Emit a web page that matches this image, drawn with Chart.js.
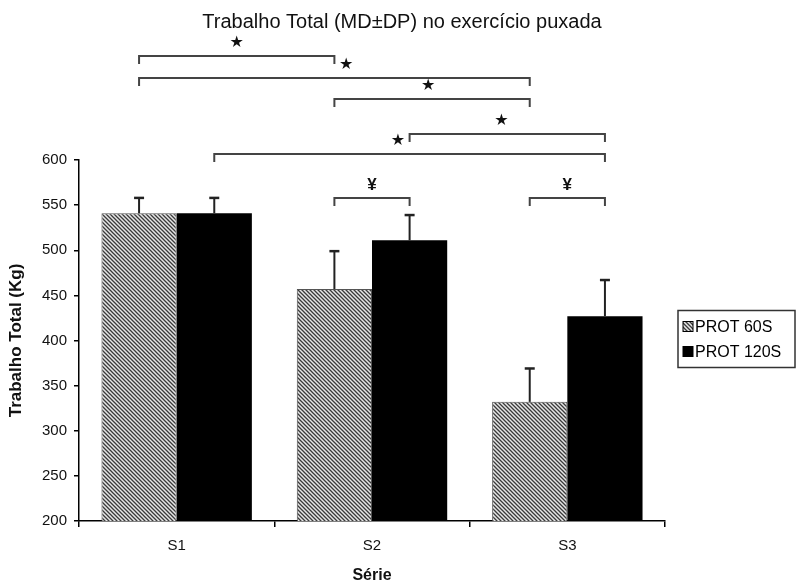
<!DOCTYPE html>
<html lang="pt-br">
<head>
    <meta charset="UTF-8">
    <script src="https://cdn.jsdelivr.net/npm/chart.js"></script>
    <title>Trabalho Total</title>
    <style>
        body { margin: 0; background: #fff; }
    </style>
</head>
<body>
    <div style="width: 798px; height: 585px;">
        <canvas id="grafico1" width="798" height="585"></canvas>
    </div>

    <script>
        // dados
        const series = ['S1', 'S2', 'S3']
        const prot60 = [541, 457, 332]
        const prot60dp = [17, 42, 37]
        const prot120 = [541, 511, 427]
        const prot120dp = [17, 28, 40]
        const yTicks = [200, 250, 300, 350, 400, 450, 500, 550, 600]
        const titulo = 'Trabalho Total (MD±DP) no exercício puxada'

        // chaves de significância: [dataset, categoria] ate [dataset, categoria], nivel em Kg
        const chaves = [
            { de: [0, 0], ate: [0, 1], nivel: 715, simbolo: '★', pos: 0.5 },
            { de: [0, 0], ate: [0, 2], nivel: 691, simbolo: '★', pos: 0.53 },
            { de: [0, 1], ate: [0, 2], nivel: 668, simbolo: '★', pos: 0.48 },
            { de: [1, 1], ate: [1, 2], nivel: 629, simbolo: '★', pos: 0.47 },
            { de: [1, 0], ate: [1, 2], nivel: 607, simbolo: '★', pos: 0.47 },
            { de: [0, 1], ate: [1, 1], nivel: 558, simbolo: '¥', pos: 0.5 },
            { de: [0, 2], ate: [1, 2], nivel: 558, simbolo: '¥', pos: 0.5 }
        ]

        const fonte = "'Liberation Sans', Arial, sans-serif"

        // hachura diagonal
        const hachura = (() => {
            const s = 4
            const c = document.createElement('canvas')
            c.width = s; c.height = s
            const g = c.getContext('2d')
            g.fillStyle = '#e6e6e6'
            g.fillRect(0, 0, s, s)
            g.strokeStyle = '#3a3a3a'
            g.lineWidth = 1.3
            g.beginPath()
            g.moveTo(0, 0); g.lineTo(s, s)
            g.moveTo(-1, s - 1); g.lineTo(1, s + 1)
            g.moveTo(s - 1, -1); g.lineTo(s + 1, 1)
            g.stroke()
            return g.createPattern(c, 'repeat')
        })()

        const extras = {
            id: 'extras',
            afterDatasetsDraw(chart) {
                const ctx = chart.ctx
                const y = chart.scales.y
                ctx.save()
                ctx.strokeStyle = '#222'
                chart.data.datasets.forEach((ds, i) => {
                    chart.getDatasetMeta(i).data.forEach((bar, j) => {
                        const topo = y.getPixelForValue(ds.data[j] + ds.dp[j])
                        ctx.lineWidth = 2
                        ctx.beginPath()
                        ctx.moveTo(bar.x, bar.y)
                        ctx.lineTo(bar.x, topo)
                        ctx.stroke()
                        ctx.lineWidth = 2.5
                        ctx.beginPath()
                        ctx.moveTo(bar.x - 5, topo)
                        ctx.lineTo(bar.x + 5, topo)
                        ctx.stroke()
                    })
                })
                ctx.restore()
            },
            afterDraw(chart) {
                const ctx = chart.ctx
                const y = chart.scales.y
                const area = chart.chartArea
                ctx.save()

                // titulo
                ctx.fillStyle = '#111'
                ctx.font = "20px " + fonte
                ctx.textAlign = 'center'
                ctx.textBaseline = 'middle'
                ctx.fillText(titulo, chart.width / 2 + 3, 22)

                // chaves
                ctx.strokeStyle = '#444'
                ctx.lineWidth = 2
                chaves.forEach(c => {
                    const x1 = chart.getDatasetMeta(c.de[0]).data[c.de[1]].x
                    const x2 = chart.getDatasetMeta(c.ate[0]).data[c.ate[1]].x
                    const yy = Math.round(y.getPixelForValue(c.nivel))
                    ctx.beginPath()
                    ctx.moveTo(x1, yy + 8)
                    ctx.lineTo(x1, yy)
                    ctx.lineTo(x2, yy)
                    ctx.lineTo(x2, yy + 8)
                    ctx.stroke()
                    ctx.font = c.simbolo === '¥' ? "bold 17px " + fonte : "16px 'DejaVu Sans'"
                    ctx.fillText(c.simbolo, x1 + (x2 - x1) * c.pos, yy - 13)
                })

                // legenda
                const lx = area.right + 13
                const ly = (area.top + area.bottom) / 2 - 30
                ctx.lineWidth = 1.5
                ctx.strokeStyle = '#333'
                ctx.strokeRect(lx, ly, 117, 57)
                ctx.font = "16px " + fonte
                ctx.textAlign = 'left'
                chart.data.datasets.forEach((ds, i) => {
                    const cy = ly + 16 + i * 25
                    ctx.fillStyle = ds.backgroundColor
                    ctx.fillRect(lx + 5, cy - 5, 10, 10)
                    ctx.strokeStyle = '#000'
                    ctx.lineWidth = 1
                    ctx.strokeRect(lx + 5, cy - 5, 10, 10)
                    ctx.fillStyle = '#000'
                    ctx.fillText(ds.label, lx + 17, cy + 1)
                })
                ctx.restore()
            }
        }

        const ctx = document.getElementById('grafico1')

        let grafico1 = new Chart(ctx, {
            type: 'bar',
            data: {
                labels: series,
                datasets: [{
                    label: 'PROT 60S',
                    data: prot60,
                    dp: prot60dp,
                    backgroundColor: hachura,
                    borderColor: '#555',
                    borderWidth: 1
                }, {
                    label: 'PROT 120S',
                    data: prot120,
                    dp: prot120dp,
                    backgroundColor: '#000',
                    borderColor: '#000',
                    borderWidth: 0
                }]
            },
            options: {
                responsive: false,
                animation: false,
                devicePixelRatio: 1,
                barPercentage: 1,
                categoryPercentage: 0.77,
                layout: { padding: { left: 0, right: 133, top: 160, bottom: 0 } },
                plugins: {
                    legend: { display: false },
                    tooltip: { enabled: false },
                    title: { display: false }
                },
                scales: {
                    x: {
                        grid: { drawOnChartArea: false, drawTicks: true, tickLength: 6, offset: true, color: '#000', lineWidth: 1.5 },
                        border: { display: true, color: '#000', width: 1.5 },
                        ticks: { color: '#111', font: { family: fonte, size: 15 }, padding: 10 },
                        title: { display: true, text: 'Série', color: '#111', font: { family: fonte, size: 16, weight: 'bold' }, padding: { top: 0, bottom: 0 } },
                        afterFit: s => { s.height = 64 }
                    },
                    y: {
                        min: 200,
                        max: 600,
                        afterBuildTicks: s => { s.ticks = yTicks.map(v => ({ value: v })) },
                        grid: { drawOnChartArea: false, drawTicks: true, tickLength: 5, color: '#000', lineWidth: 1.5 },
                        border: { display: true, color: '#000', width: 1.5 },
                        ticks: { color: '#111', font: { family: fonte, size: 15 }, padding: 7 },
                        title: { display: true, text: 'Trabalho Total (Kg)', color: '#111', font: { family: fonte, size: 17, weight: 'bold' }, padding: { top: 6, bottom: 0 } },
                        afterFit: s => { s.width = 79 }
                    }
                }
            },
            plugins: [extras]
        });
    </script>
</body>
</html>
